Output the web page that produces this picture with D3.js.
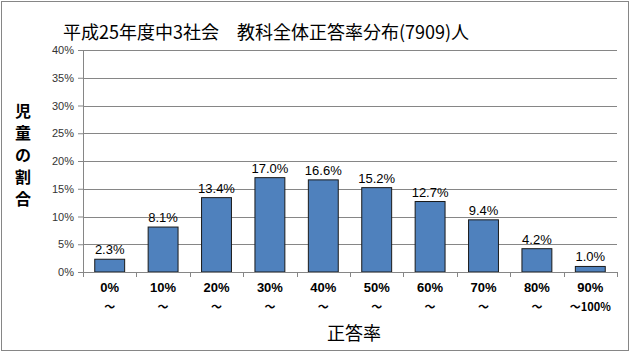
<!DOCTYPE html>
<html>
<head>
<meta charset="utf-8">
<script src="https://cdn.jsdelivr.net/npm/d3@7"></script>
<style>
  body { margin: 0; background: #fff; }
  text { font-family: "Noto Sans CJK JP", "Liberation Sans", sans-serif; }
</style>
</head>
<body>
<svg id="chart" width="633" height="353"></svg>
<script>
const categories = ["0%", "10%", "20%", "30%", "40%", "50%", "60%", "70%", "80%", "90%"];
const subLabels = ["～", "～", "～", "～", "～", "～", "～", "～", "～", "～100%"];
const values = [2.3, 8.1, 13.4, 17.0, 16.6, 15.2, 12.7, 9.4, 4.2, 1.0];
const yTicks = [0, 5, 10, 15, 20, 25, 30, 35, 40];

const svg = d3.select("#chart");
const margin = { top: 50, right: 16, bottom: 81, left: 83 };
const width = 633 - margin.left - margin.right;
const height = 353 - margin.top - margin.bottom;

// chart border
svg.append("rect")
    .attr("x", 1.5).attr("y", 1.5)
    .attr("width", 627).attr("height", 349)
    .attr("fill", "#fff")
    .attr("stroke", "#868686");

const g = svg.append("g").attr("transform", `translate(${margin.left},${margin.top})`);

const x = d3.scaleBand().domain(categories).range([0, width]).paddingInner(0.44).paddingOuter(0.22);
const y = d3.scaleLinear().domain([0, 40]).range([height, 0]);

// gridlines
g.append("g")
    .selectAll("line")
    .data(yTicks.slice(1))
    .join("line")
    .attr("x1", 0).attr("x2", width)
    .attr("y1", d => Math.round(y(d)) + 0.5).attr("y2", d => Math.round(y(d)) + 0.5)
    .attr("stroke", "#868686");

// y axis
const yAxis = g.append("g")
    .call(d3.axisLeft(y).tickValues(yTicks).tickFormat(d => d + "%").tickSize(5).tickSizeOuter(0));
yAxis.select(".domain").attr("stroke", "#868686");
yAxis.selectAll(".tick line").attr("stroke", "#868686");
yAxis.selectAll(".tick text")
    .attr("x", -9)
    .attr("font-size", 11)
    .attr("fill", "#333")
    .style("font-family", "'Liberation Sans', sans-serif");

// bars
g.selectAll(".bar")
    .data(values)
    .join("rect")
    .attr("class", "bar")
    .attr("x", (d, i) => x(categories[i]))
    .attr("y", d => y(d))
    .attr("width", x.bandwidth())
    .attr("height", d => height - y(d))
    .attr("fill", "#4F81BD")
    .attr("stroke", "#1a1a1a")
    .attr("stroke-width", 1);

// x axis
const xTickScale = d3.scaleLinear().domain([0, categories.length]).range([0, width]);
g.append("line")
    .attr("x1", 0).attr("x2", width)
    .attr("y1", height + 0.5).attr("y2", height + 0.5)
    .attr("stroke", "#868686");
g.append("g")
    .selectAll("line")
    .data(d3.range(categories.length + 1))
    .join("line")
    .attr("x1", d => Math.round(xTickScale(d)) + 0.5)
    .attr("x2", d => Math.round(xTickScale(d)) + 0.5)
    .attr("y1", height).attr("y2", height + 5)
    .attr("stroke", "#868686");

// data labels
g.selectAll(".val")
    .data(values)
    .join("text")
    .attr("class", "val")
    .attr("x", (d, i) => x(categories[i]) + x.bandwidth() / 2)
    .attr("y", d => y(d) - 5)
    .attr("text-anchor", "middle")
    .attr("font-size", 13)
    .style("font-family", "'Liberation Sans', sans-serif")
    .text(d => d.toFixed(1) + "%");

// category labels
g.selectAll(".cat")
    .data(categories)
    .join("text")
    .attr("class", "cat")
    .attr("x", d => x(d) + x.bandwidth() / 2)
    .attr("y", height + 20)
    .attr("text-anchor", "middle")
    .attr("font-size", 13)
    .attr("font-weight", "bold")
    .style("font-family", "'Liberation Sans', sans-serif")
    .text(d => d);

g.selectAll(".sub")
    .data(subLabels)
    .join("text")
    .attr("class", "sub")
    .attr("x", (d, i) => x(categories[i]) + x.bandwidth() / 2)
    .attr("y", height + 39)
    .attr("text-anchor", "middle")
    .attr("font-size", 11)
    .attr("font-weight", "bold")
    .text(d => d);

// title
svg.append("text")
    .attr("x", 266).attr("y", 39)
    .attr("text-anchor", "middle")
    .attr("font-size", 18)
    .text("平成25年度中3社会　教科全体正答率分布(7909)人");

// y axis title (vertical)
const yTitle = "児童の割合".split("");
svg.append("g")
    .selectAll("text")
    .data(yTitle)
    .join("text")
    .attr("x", 23)
    .attr("y", (d, i) => 117 + i * 22)
    .attr("text-anchor", "middle")
    .attr("font-size", 16)
    .attr("font-weight", "bold")
    .text(d => d);

// x axis title
svg.append("text")
    .attr("x", 354).attr("y", 340)
    .attr("text-anchor", "middle")
    .attr("font-size", 18)
    .text("正答率");
</script>
</body>
</html>
